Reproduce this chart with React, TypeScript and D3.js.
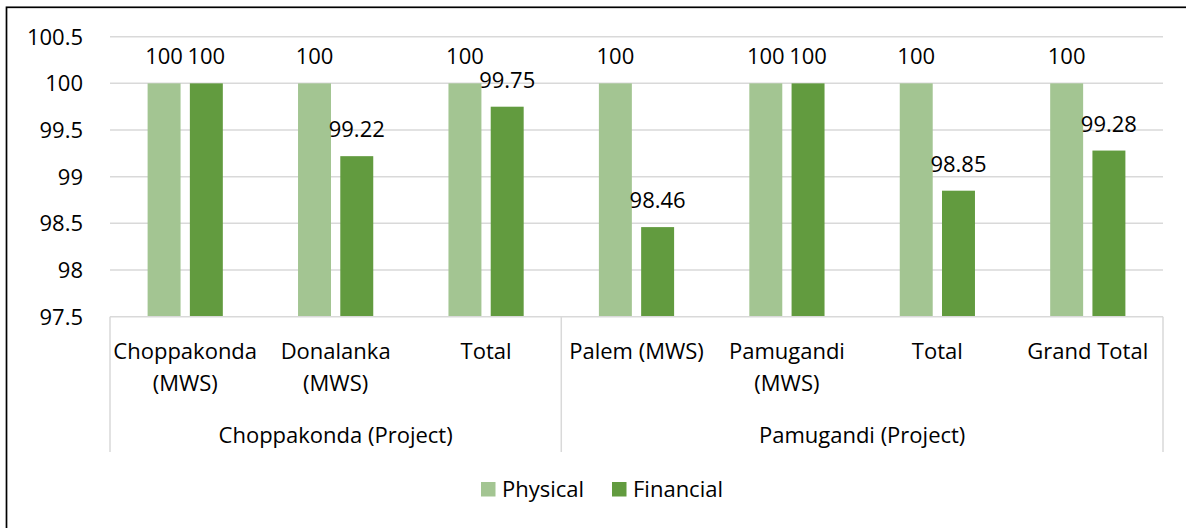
import React from 'react';
import * as d3 from 'd3';

const categoryLines = [
  ['Choppakonda', '(MWS)'],
  ['Donalanka', '(MWS)'],
  ['Total'],
  ['Palem (MWS)'],
  ['Pamugandi', '(MWS)'],
  ['Total'],
  ['Grand Total'],
];
const groupNames = ['Choppakonda (Project)', 'Pamugandi (Project)'];
const groupSizes = [3, 4];
const seriesNames = ['Physical', 'Financial'];
const physical = [100, 100, 100, 100, 100, 100, 100];
const financial = [100, 99.22, 99.75, 98.46, 100, 98.85, 99.28];
const yTicks = [97.5, 98, 98.5, 99, 99.5, 100, 100.5];

const colors = ['#a3c592', '#629b3f'];
const font = '"Open Sans", sans-serif';

const W = 1186;
const H = 528;
const left = 110;
const right = 1163;
const top = 36.7;
const bottom = 316.7;

export default function App() {
  const idx = categoryLines.map((_, i) => i);
  const x0 = d3.scaleBand<number>().domain(idx).range([left, right]).padding(0);
  const bw = x0.bandwidth();
  const x1 = d3.scaleBand<string>().domain(seriesNames).range([bw * 0.25, bw * 0.75]).paddingInner(0.22);
  const y = d3.scaleLinear().domain([97.5, 100.5]).range([bottom, top]);
  const series = [physical, financial];

  // group boundaries along the category axis
  const bounds: number[] = [0];
  groupSizes.forEach((s) => bounds.push(bounds[bounds.length - 1] + s));
  const edgeX = (i: number) => (i < idx.length ? x0(i)! : right);

  return (
    <div style={{ position: 'absolute', left: 0, top: 0 }}>
      <svg width={W} height={H} style={{ display: 'block', fontFamily: font }}>
        <rect x={0} y={0} width={W} height={H} fill="#fff" />
        <rect x={6.5} y={7.3} width={W + 20} height={H + 20} fill="none" stroke="#000" strokeWidth={1.7} />

        {yTicks.map((t) => (
          <g key={t}>
            {t !== 97.5 && (
              <line x1={left} x2={right} y1={y(t)} y2={y(t)} stroke="#d9d9d9" strokeWidth={1.5} />
            )}
            <text x={83} y={y(t) + 8} textAnchor="end" fontSize={22} fill="#000">
              {t}
            </text>
          </g>
        ))}

        {series.map((vals, si) =>
          vals.map((v, i) => {
            const bx = x0(i)! + x1(seriesNames[si])!;
            return (
              <g key={`${si}-${i}`}>
                <rect x={bx} y={y(v)} width={x1.bandwidth()} height={bottom - y(v)} fill={colors[si]} />
                <text x={bx + x1.bandwidth() / 2} y={y(v) - 19} textAnchor="middle" fontSize={22} fill="#000">
                  {v}
                </text>
              </g>
            );
          })
        )}

        <line x1={left} x2={right} y1={bottom} y2={bottom} stroke="#d9d9d9" strokeWidth={1.5} />
        {bounds.map((b) => (
          <line key={b} x1={edgeX(b)} x2={edgeX(b)} y1={bottom} y2={452} stroke="#d9d9d9" strokeWidth={1.5} />
        ))}

        {categoryLines.map((lines, i) => (
          <text key={i} x={x0(i)! + bw / 2} textAnchor="middle" fontSize={22} fill="#000">
            {lines.map((l, j) => (
              <tspan key={j} x={x0(i)! + bw / 2} y={359 + j * 32}>
                {l}
              </tspan>
            ))}
          </text>
        ))}

        {groupNames.map((g, gi) => (
          <text
            key={g}
            x={(edgeX(bounds[gi]) + edgeX(bounds[gi + 1])) / 2}
            y={443}
            textAnchor="middle"
            fontSize={22}
            fill="#000"
          >
            {g}
          </text>
        ))}

        {seriesNames.map((s, si) => {
          const lx = [481, 612][si];
          return (
            <g key={s}>
              <rect x={lx} y={482} width={14.5} height={14.5} fill={colors[si]} />
              <text x={lx + 21} y={497} fontSize={22} fill="#000">
                {s}
              </text>
            </g>
          );
        })}
      </svg>
    </div>
  );
}
